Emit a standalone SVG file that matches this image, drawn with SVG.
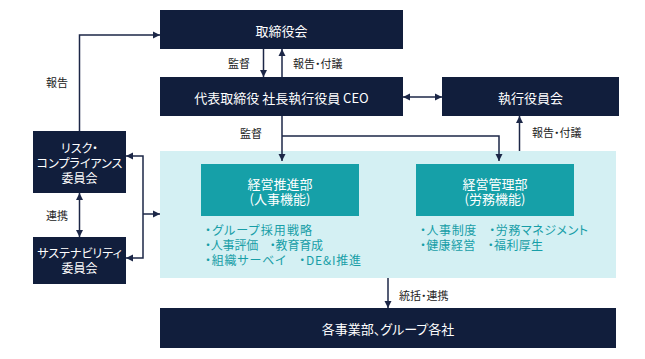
<svg xmlns="http://www.w3.org/2000/svg" width="645" height="359" viewBox="0 0 645 359">
<style>
text{font-family:"Noto Sans CJK JP","Noto Sans",sans-serif;dominant-baseline:central;font-feature-settings:"palt"}
.navy{fill:#111e3c}
.teal{fill:#16a0a8}
.wt{fill:#ffffff;font-size:13px;text-anchor:middle}
.ws{fill:#ffffff;font-size:12px;text-anchor:middle}
.lbl{fill:#222222;font-size:11px}
.lst{fill:#179ea7;font-size:12px}
.cn{fill:none;stroke:#1c2747;stroke-width:1.5}
</style>
<defs>
<marker id="ah" viewBox="0 0 10 10" refX="10" refY="5" markerWidth="7" markerHeight="8" markerUnits="userSpaceOnUse" orient="auto-start-reverse">
<path d="M0,0 L10,5 L0,10 z" fill="#1c2747"/>
</marker>
</defs>
<g id="area"><rect x="160" y="151" width="456" height="127" fill="#d4f0f3"/></g>
<g id="board"><rect class="navy" x="160" y="10" width="243" height="39"/><text class="wt" x="281.5" y="30">取締役会</text></g>
<g id="ceo"><rect class="navy" x="160" y="77" width="243" height="39"/><text class="wt" x="281.5" y="97">代表取締役 社長執行役員 CEO</text></g>
<g id="exec"><rect class="navy" x="442" y="77" width="177" height="39"/><text class="wt" x="530.5" y="97">執行役員会</text></g>
<g id="risk"><rect class="navy" x="33" y="131" width="93" height="62"/><text class="ws" x="79.5" y="147">リスク・</text><text class="ws" x="79.5" y="162">コンプライアンス</text><text class="ws" x="79.5" y="177">委員会</text></g>
<g id="sustain"><rect class="navy" x="33" y="237" width="93" height="47"/><text class="ws" x="79.5" y="252.5">サステナビリティ</text><text class="ws" x="79.5" y="267.5">委員会</text></g>
<g id="suishin"><rect class="teal" x="201" y="164" width="158" height="52"/><text class="wt" x="280" y="183.5">経営推進部</text><text class="wt" x="280" y="198.5">(人事機能)</text>
<text class="lst" x="205" y="229.5" textLength="107">・グループ採用戦略</text><text class="lst" x="205" y="244" textLength="118">・人事評価　・教育育成</text><text class="lst" x="205" y="259" textLength="156">・組織サーベイ　・DE&amp;I推進</text></g>
<g id="kanri"><rect class="teal" x="416" y="164" width="158" height="52"/><text class="wt" x="495" y="183.5">経営管理部</text><text class="wt" x="495" y="198.5">(労務機能)</text>
<text class="lst" x="420" y="229.5" textLength="168">・人事制度　・労務マネジメント</text><text class="lst" x="420" y="244" textLength="123">・健康経営　・福利厚生</text></g>
<g id="group"><rect class="navy" x="160" y="308" width="456" height="40"/><text class="wt" x="388" y="328">各事業部、グループ各社</text></g>
<g id="connectors">
<path class="cn" d="M263.5,49 V77" marker-end="url(#ah)"/>
<path class="cn" d="M282,77 V49" marker-end="url(#ah)"/>
<path class="cn" d="M403,97 H442" marker-start="url(#ah)" marker-end="url(#ah)"/>
<path class="cn" d="M282,116 V161" marker-end="url(#ah)"/>
<path class="cn" d="M282,136 H499 V161" marker-end="url(#ah)"/>
<path class="cn" d="M519.5,151 V116" marker-end="url(#ah)"/>
<path class="cn" d="M79.5,131 V35 H160" marker-end="url(#ah)"/>
<path class="cn" d="M79.5,193 V237" marker-start="url(#ah)" marker-end="url(#ah)"/>
<path class="cn" d="M126,156 H143 V258 H126" marker-start="url(#ah)" marker-end="url(#ah)"/>
<path class="cn" d="M143,214 H160" marker-end="url(#ah)"/>
<path class="cn" d="M388,278 V308" marker-end="url(#ah)"/>
<text class="lbl" x="228" y="63">監督</text>
<text class="lbl" x="293" y="63">報告・付議</text>
<text class="lbl" x="240" y="133">監督</text>
<text class="lbl" x="532" y="132">報告・付議</text>
<text class="lbl" x="46" y="82">報告</text>
<text class="lbl" x="46" y="215">連携</text>
<text class="lbl" x="399" y="294.5">統括・連携</text>
</g>
</svg>
